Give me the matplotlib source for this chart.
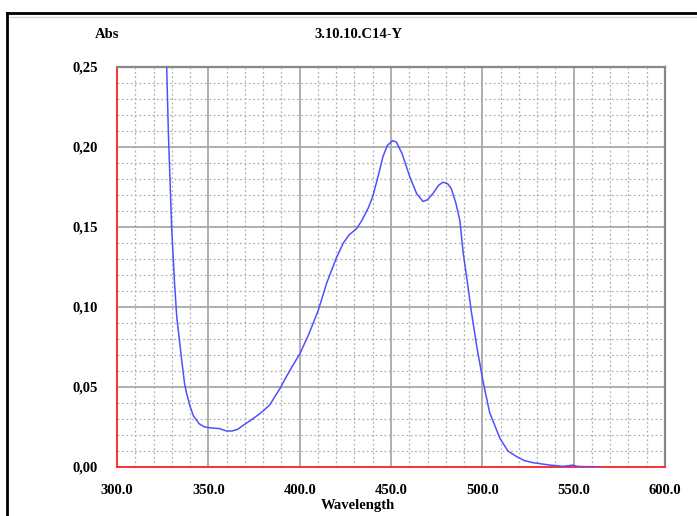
import matplotlib
matplotlib.use("Agg")
import matplotlib.pyplot as plt
from matplotlib.lines import Line2D
from matplotlib.ticker import MultipleLocator, FuncFormatter

# Absorption spectrum (wavelength in nm, absorbance)
wavelength = [326.5, 327.2, 328.1, 329.9, 331.5, 332.7, 335.4, 337.0, 338.1, 340.0,
              341.8, 345.0, 348.0, 351.0, 356.0, 360.0, 363.0, 366.0, 369.0, 373.0,
              376.6, 380.0, 383.7, 387.0, 389.2, 392.0, 396.0, 400.2, 405.0, 410.2,
              414.8, 420.2, 423.9, 427.0, 431.2, 434.0, 437.6, 440.0, 443.0, 445.6,
              448.0, 451.0, 453.0, 456.0, 460.4, 464.0, 467.5, 470.0, 473.0, 476.0,
              478.4, 481.0, 483.0, 485.5, 487.7, 489.5, 491.5, 494.0, 497.0, 500.3,
              504.0, 509.6, 514.0, 518.8, 523.0, 527.8, 532.0, 537.0, 541.0, 544.0,
              547.0, 549.6, 552.0, 556.0, 560.0, 564.5]
absorbance = [0.270, 0.250, 0.210, 0.150, 0.115, 0.094, 0.067, 0.052, 0.046, 0.038,
              0.032, 0.027, 0.025, 0.0245, 0.024, 0.0225, 0.0225, 0.0235, 0.026, 0.029,
              0.032, 0.035, 0.039, 0.045, 0.049, 0.055, 0.063, 0.071, 0.083, 0.098,
              0.115, 0.131, 0.140, 0.145, 0.149, 0.154, 0.162, 0.169, 0.182, 0.194,
              0.201, 0.204, 0.203, 0.196, 0.181, 0.171, 0.166, 0.167, 0.171, 0.176,
              0.178, 0.177, 0.174, 0.165, 0.154, 0.134, 0.118, 0.097, 0.075, 0.054,
              0.034, 0.018, 0.010, 0.0065, 0.004, 0.0027, 0.002, 0.0012, 0.0008, 0.0004,
              0.0008, 0.0012, 0.0004, 0.0002, 0.0002, 0.0]

title_text = "3.10.10.C14-Y"
y_label = "Abs"
x_label = "Wavelength"

font = {"family": "Liberation Serif", "weight": "bold", "size": 10.5}

fig = plt.figure(figsize=(6.97, 5.16), dpi=100)
ax = fig.add_axes([117 / 697, 49 / 516, 548 / 697, 400 / 516])

ax.set_xlim(300, 600)
ax.set_ylim(0, 0.25)

ax.xaxis.set_major_locator(MultipleLocator(50))
ax.xaxis.set_minor_locator(MultipleLocator(10))
ax.yaxis.set_major_locator(MultipleLocator(0.05))
ax.yaxis.set_minor_locator(MultipleLocator(0.01))

ax.grid(which="major", color="#a8a8a8", linestyle="-", linewidth=1.3, zorder=0)
ax.grid(which="minor", color="#b0b0b0", linestyle=(0, (1.5, 2)), linewidth=0.9, zorder=0)

ax.plot(wavelength, absorbance, color="#5050ff", linewidth=1.1, zorder=3)

ax.xaxis.set_major_formatter(FuncFormatter(lambda v, p: f"{v:.1f}"))
ax.yaxis.set_major_formatter(FuncFormatter(lambda v, p: f"{v:.2f}".replace(".", ",")))
ax.tick_params(which="both", length=0)
ax.tick_params(axis="x", pad=12)
ax.tick_params(axis="y", pad=14)
for lbl in ax.get_xticklabels() + ax.get_yticklabels():
    lbl.set_fontfamily(font["family"])
    lbl.set_fontweight(font["weight"])
    lbl.set_fontsize(font["size"])

for side in ("left", "bottom"):
    ax.spines[side].set_color("#ff3030")
    ax.spines[side].set_linewidth(1.4)
for side in ("top", "right"):
    ax.spines[side].set_color("#888888")
    ax.spines[side].set_linewidth(1.6)

fig.text(358 / 697, 1 - 35 / 516, title_text, ha="center", va="center", **font)
fig.text(107 / 697, 1 - 35 / 516, y_label, ha="center", va="center", **font)
fig.text(358 / 697, 1 - 506 / 516, x_label, ha="center", va="center", **font)

# outer frame (top and left edges)
top_y = 1 - 13 / 516
left_x = 7 / 697
fig.add_artist(Line2D([left_x, 1.0], [top_y, top_y], transform=fig.transFigure,
                      color="black", linewidth=2.0))
fig.add_artist(Line2D([left_x, left_x], [0.0, top_y], transform=fig.transFigure,
                      color="black", linewidth=2.0))
fig.add_artist(Line2D([left_x + 3 / 697, 1.0], [top_y - 4 / 516, top_y - 4 / 516],
                      transform=fig.transFigure, color="#d8d8d8", linewidth=1.0))

fig.savefig("out.png", dpi=100)
